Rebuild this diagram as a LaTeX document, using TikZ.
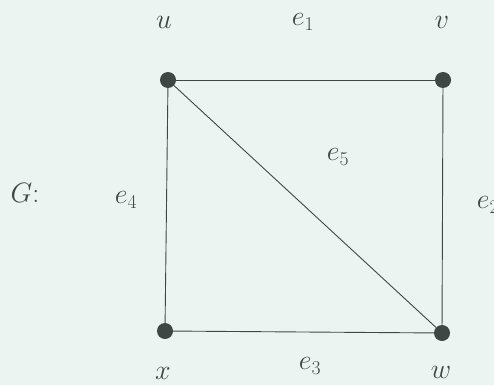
\RequirePackage{fix-cm}
\documentclass[tikz,border=0pt]{standalone}
\usepackage{tikz}
\usetikzlibrary{positioning}
\definecolor{bgmint}{HTML}{EBF4F0}
\definecolor{ink}{HTML}{3E4744}
\begin{document}
\begin{tikzpicture}[x=1pt,y=-1pt,font=\fontsize{28}{32}\selectfont,every node/.style={text=ink}]
\tikzstyle{vtx}=[circle,fill=ink,draw=none,minimum size=16pt,inner sep=0pt]
\tikzstyle{edge}=[draw=ink,line width=0.9pt]
\fill[bgmint] (0,0) rectangle (494,385);
\useasboundingbox (0,0) rectangle (494,385);
% vertices
\node[vtx] (u) at (168,80) {};
\node[vtx] (v) at (443,80) {};
\node[vtx] (x) at (165,331) {};
\node[vtx] (w) at (442,333) {};
% edges
\draw[edge] (u) -- (v);
\draw[edge] (v) -- (w);
\draw[edge] (x) -- (w);
\draw[edge] (u) -- (x);
\draw[edge] (u) -- (w);
% labels
\node (lu) at (164,22) {$u$};
\node (lv) at (442,22) {$v$};
\node (lx) at (163,373) {$x$};
\node (lw) at (441,372) {$w$};
\node (le1) at (303,22) {$e_1$};
\node (le2) at (488,205) {$e_2$};
\node (le3) at (310,366) {$e_3$};
\node (le4) at (126,200) {$e_4$};
\node (le5) at (338,157) {$e_5$};
\node (lg) at (25,193) {$G$:};
\end{tikzpicture}
\end{document}
